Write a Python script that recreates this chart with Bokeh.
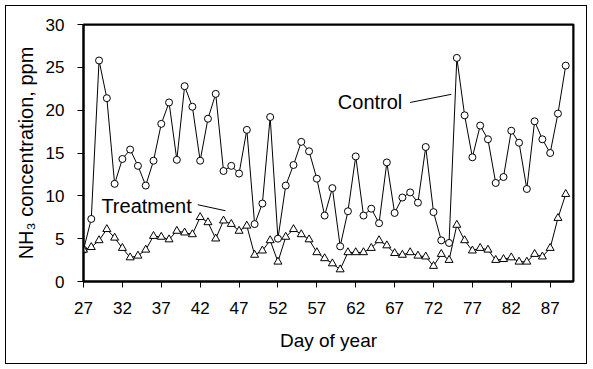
from bokeh.plotting import figure
from bokeh.models import Range1d, FixedTicker, Label, Span, ColumnDataSource
from bokeh.embed import file_html
from bokeh.resources import INLINE

days = list(range(27, 90))
control = [3.7, 7.3, 25.8, 21.4, 11.4, 14.3, 15.4, 13.5, 11.2, 14.1,
           18.4, 20.9, 14.2, 22.8, 20.4, 14.1, 19.0, 21.9, 12.9, 13.5,
           12.6, 17.7, 6.7, 9.1, 19.2, 5.0, 11.2, 13.6, 16.3, 15.2,
           12.0, 7.7, 10.9, 4.1, 8.2, 14.6, 7.7, 8.5, 6.8, 13.9,
           8.0, 9.8, 10.4, 9.2, 15.7, 8.1, 4.8, 4.5, 26.1, 19.4,
           14.5, 18.2, 16.6, 11.5, 12.2, 17.6, 16.2, 10.8, 18.7, 16.6,
           15.0, 19.6, 25.2]
treatment = [3.7, 4.0, 4.8, 6.1, 5.1, 3.9, 2.8, 3.0, 3.7, 5.3,
             5.2, 4.9, 5.9, 5.7, 5.5, 7.5, 6.9, 5.0, 7.1, 6.7,
             5.9, 6.5, 3.1, 3.6, 4.8, 2.3, 5.2, 6.1, 5.5, 4.9,
             3.4, 2.7, 2.1, 1.4, 3.4, 3.4, 3.4, 3.9, 4.8, 4.2,
             3.3, 3.1, 3.4, 3.0, 2.9, 1.8, 3.2, 2.5, 6.6, 4.8,
             3.6, 3.9, 3.7, 2.5, 2.6, 2.8, 2.3, 2.3, 3.2, 2.9,
             3.9, 7.4, 10.2]
x_ticks = list(range(27, 88, 5))
y_ticks = [0, 5, 10, 15, 20, 25, 30]

FONT = "Liberation Sans"

p = figure(width=582, height=359, output_backend="svg", toolbar_location=None,
           x_range=Range1d(27, 90), y_range=Range1d(0, 30),
           min_border_left=77, min_border_right=15, min_border_top=18, min_border_bottom=84)
p.background_fill_color = "white"
p.border_fill_color = "white"
p.outline_line_color = "black"
p.outline_line_width = 2
p.xgrid.visible = False
p.ygrid.visible = False

for ax in (p.xaxis[0], p.yaxis[0]):
    ax.axis_line_color = "black"
    ax.axis_line_width = 2
    ax.major_tick_in = 0
    ax.major_tick_out = 6
    ax.major_tick_line_width = 1
    ax.minor_tick_line_color = None
    ax.major_label_text_font = FONT
    ax.major_label_text_font_size = "17px"
    ax.major_label_text_color = "black"
    ax.axis_label_text_font = FONT
    ax.axis_label_text_font_style = "normal"
    ax.axis_label_text_color = "black"

p.xaxis.ticker = FixedTicker(ticks=x_ticks)
p.yaxis.ticker = FixedTicker(ticks=y_ticks)
p.xaxis.axis_label = "Day of year"
p.yaxis.axis_label = "NH\u2083 concentration, ppm"
p.xaxis.axis_label_text_font_size = "19px"
p.yaxis.axis_label_text_font_size = "20px"
p.xaxis.major_label_standoff = 14
p.yaxis.major_label_standoff = 13
p.xaxis.axis_label_standoff = 13
p.yaxis.axis_label_standoff = 6

# frame edges (top and right)
p.add_layout(Span(location=90, dimension="height", line_color="black", line_width=2))
p.add_layout(Span(location=30, dimension="width", line_color="black", line_width=2))

src = ColumnDataSource(dict(x=days, c=control, t=treatment))
p.line("x", "c", source=src, line_color="black", line_width=1)
p.line("x", "t", source=src, line_color="black", line_width=1)
p.scatter("x", "c", source=src, marker="circle", size=7, fill_color="white", line_color="black", line_width=1)
p.scatter("x", "t", source=src, marker="triangle", size=8, fill_color="white", line_color="black", line_width=1)

p.add_layout(Label(x=59.7, y=21.0, text="Control", text_font=FONT, text_font_size="20px",
                   text_baseline="middle", text_align="left", text_color="black"))
p.add_layout(Label(x=29.3, y=8.8, text="Treatment", text_font=FONT, text_font_size="20px",
                   text_baseline="middle", text_align="left", text_color="black"))
p.segment(x0=[69.0, 41.7], y0=[20.9, 8.96], x1=[74.3, 45.25], y1=[21.85, 8.26],
          line_color="black", line_width=1)

p.styles = {"border": "1px solid black", "box-sizing": "border-box",
            "margin-left": "5px", "margin-top": "5px"}

open("out.html", "w").write(file_html(p, INLINE))
